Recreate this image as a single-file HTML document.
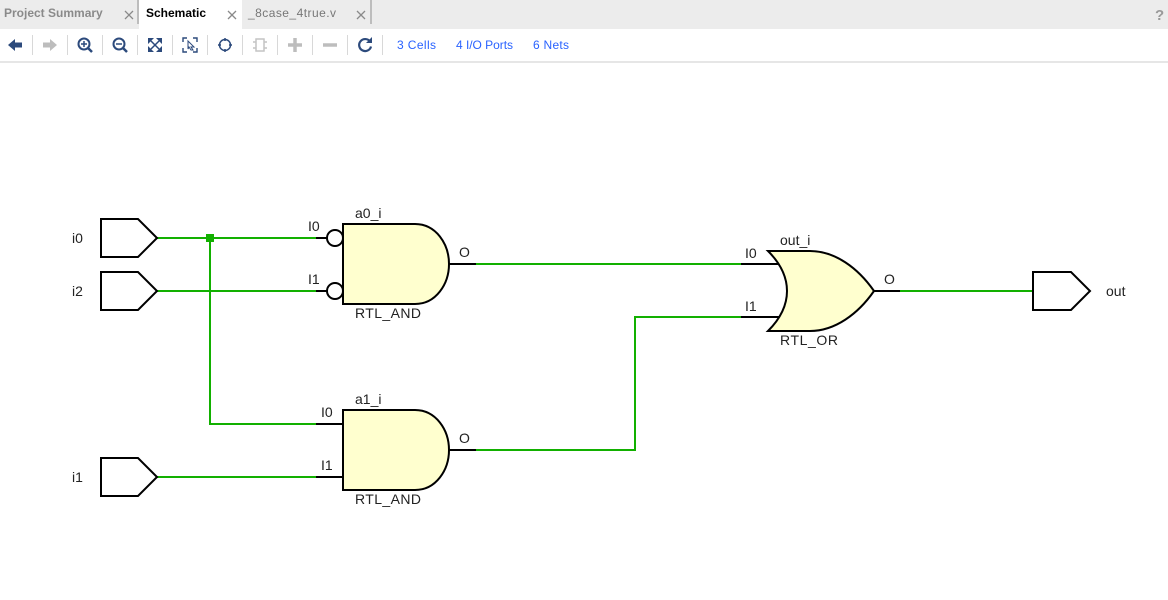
<!DOCTYPE html>
<html><head><meta charset="utf-8"><style>
html,body{margin:0;padding:0;background:#fff}
svg{display:block}
text{font-family:"Liberation Sans",sans-serif}
.l{font-size:14px;fill:#222}
.b{font-size:12px;font-weight:bold}
.lnk{font-size:12px;fill:#2962ff}
</style></head><body>
<svg width="1168" height="600" viewBox="0 0 1168 600" xmlns="http://www.w3.org/2000/svg">
<rect width="1168" height="600" fill="#fff"/>
<rect width="1168" height="29" fill="#ececec"/>
<rect x="139" y="0" width="103" height="29" fill="#fff"/>
<rect x="137" y="0" width="2" height="24" fill="#bdbdbd"/>
<rect x="370" y="0" width="2" height="24" fill="#bdbdbd"/>
<text x="4" y="17" class="b" fill="#8a8a8a">Project Summary</text>
<text x="146" y="17" class="b" fill="#000">Schematic</text>
<text x="248" y="17" font-size="12" fill="#777" textLength="88" lengthAdjust="spacing">_8case_4true.v</text>
<g stroke="#8a8a8a" stroke-width="1.300" fill="none">
<path d="M125 11l8 8M133 11l-8 8M228 11l8 8M236 11l-8 8M357 11l8 8M365 11l-8 8"/>
</g>
<text x="1155" y="20" font-size="15" font-weight="bold" fill="#999">?</text>
<rect x="0" y="61" width="1168" height="2" fill="#e6e6e6"/>
<!-- toolbar separators -->
<g fill="#d8d8d8">
<rect x="32" y="35" width="1" height="20"/><rect x="67" y="35" width="1" height="20"/><rect x="102" y="35" width="1" height="20"/><rect x="137" y="35" width="1" height="20"/><rect x="172" y="35" width="1" height="20"/><rect x="207" y="35" width="1" height="20"/><rect x="242" y="35" width="1" height="20"/><rect x="277" y="35" width="1" height="20"/><rect x="312" y="35" width="1" height="20"/><rect x="347" y="35" width="1" height="20"/><rect x="382" y="35" width="1" height="20"/>
</g>
<!-- toolbar icons -->
<path d="M8 45l7-6v3.500h7v5h-7v3.500z" fill="#2c4a7c"/>
<path d="M57 45l-7-6v3.500h-7v5h7v3.500z" fill="#bdbdbd"/>
<path d="M148 38h6l-6 6zM162 38h-6l6 6zM148 52h6l-6-6zM162 52h-6l6-6z" fill="#2c4a7c"/>
<g fill="none" stroke="#2c4a7c" stroke-width="2">
<circle cx="84" cy="44" r="5.500"/><path d="M88 48l4 4" stroke-width="2.500"/><path d="M81 44h6M84 41v6" stroke-width="1.500"/>
<circle cx="119" cy="44" r="5.500"/><path d="M123 48l4 4" stroke-width="2.500"/><path d="M116 44h6" stroke-width="1.500"/>
<path d="M151 41l4 4M159 41l-4 4M151 49l4-4M159 49l-4-4" stroke-width="1.500"/>
<path d="M183 42v-4h4M197 42v-4h-4M183 48v4h4M197 48v4h-4" stroke-width="1.400"/>
<path d="M188 41l6 6-3 0 2 3-2 0-2-3-1 2z" stroke-width="1"/>
<circle cx="225" cy="45" r="5.500" stroke-width="1.500"/><path d="M225 38v3M225 49v3M218 45h3M229 45h3" stroke-width="1.500"/>
<path d="M370 41.500a6 6 0 1 0 1 5" stroke-width="2.200"/>
</g>
<path d="M372 37v6h-6z" fill="#2c4a7c"/>
<g fill="none" stroke="#c4c4c4" stroke-width="1.500">
<rect x="256" y="39" width="8" height="12"/><path d="M253 42h3M253 48h3M264 42h3M264 48h3"/>
</g>
<path d="M295 38v14M288 45h14" stroke="#bdbdbd" stroke-width="3.500" fill="none"/>
<path d="M323 45h14" stroke="#bdbdbd" stroke-width="3.500" fill="none"/>
<text x="397" y="49" class="lnk" textLength="39" lengthAdjust="spacing">3 Cells</text>
<text x="456" y="49" class="lnk" textLength="57" lengthAdjust="spacing">4 I/O Ports</text>
<text x="533" y="49" class="lnk" textLength="36" lengthAdjust="spacing">6 Nets</text>

<!-- green wires -->
<g fill="none" stroke="#12b000" stroke-width="2">
<path d="M157 238H316"/>
<path d="M157 291H316"/>
<path d="M210 238V424H316"/>
<path d="M157 477H316"/>
<path d="M476 264H741"/>
<path d="M476 450H635V317H741"/>
<path d="M900 291H1033"/>
</g>
<rect x="206" y="234" width="8" height="8" fill="#12b000"/>

<!-- ports -->
<g fill="#fff" stroke="#000" stroke-width="2">
<path d="M101 219H138L157 238L138 257H101Z"/>
<path d="M101 272H138L157 291L138 310H101Z"/>
<path d="M101 458H138L157 477L138 496H101Z"/>
<path d="M1033 272H1071L1090 291L1071 310H1033Z"/>
</g>

<!-- pins -->
<g fill="none" stroke="#000" stroke-width="2">
<path d="M316 238H327M316 291H327M449 264H476"/>
<path d="M316 424H343M316 477H343M449 450H476"/>
<path d="M741 264H781M741 317H781M874 291H900"/>
</g>

<!-- gates -->
<g fill="#fff" stroke="#000" stroke-width="2">
<circle cx="335" cy="238" r="8"/>
<circle cx="335" cy="291" r="8"/>
</g>
<g fill="#ffffcf" stroke="#000" stroke-width="2">
<path d="M343 224H415C436 224 449 244 449 264C449 284 436 304 415 304H343Z"/>
<path d="M343 410H415C436 410 449 430 449 450C449 470 436 490 415 490H343Z"/>
<path d="M768 251H810C835 251 858 268 874 291C858 314 835 331 810 331H768C781 318 787 305 787 291C787 277 781 264 768 251Z"/>
</g>

<!-- labels -->
<text x="72" y="243" class="l">i0</text>
<text x="72" y="296" class="l">i2</text>
<text x="72" y="482" class="l">i1</text>
<text x="1106" y="296" class="l">out</text>
<text x="308" y="231" class="l">I0</text>
<text x="308" y="284" class="l">I1</text>
<text x="321" y="417" class="l">I0</text>
<text x="321" y="470" class="l">I1</text>
<text x="355" y="218" class="l">a0_i</text>
<text x="355" y="404" class="l">a1_i</text>
<text x="355" y="318" class="l" textLength="66" lengthAdjust="spacing">RTL_AND</text>
<text x="355" y="504" class="l" textLength="66" lengthAdjust="spacing">RTL_AND</text>
<text x="459" y="257" class="l">O</text>
<text x="459" y="443" class="l">O</text>
<text x="745" y="258" class="l">I0</text>
<text x="745" y="311" class="l">I1</text>
<text x="780" y="245" class="l">out_i</text>
<text x="780" y="345" class="l" textLength="58" lengthAdjust="spacing">RTL_OR</text>
<text x="884" y="284" class="l">O</text>
</svg>
</body></html>
